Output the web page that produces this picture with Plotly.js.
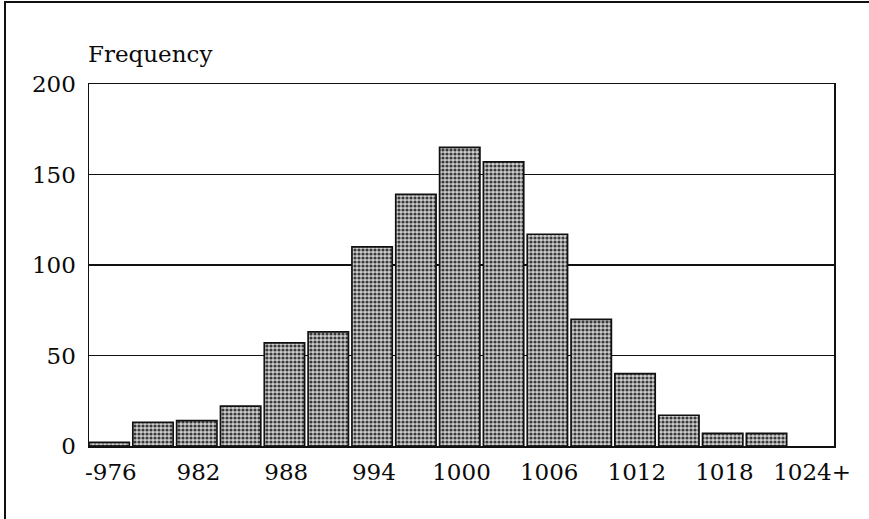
<!DOCTYPE html>
<html>
<head>
<meta charset="utf-8">
<script src="https://cdn.plot.ly/plotly-3.0.1.min.js"></script>
<style>
  html, body { margin: 0; padding: 0; background: #fff; }
  #wrap { position: relative; width: 869px; height: 519px; }
  #chart { width: 869px; height: 519px; }
  #frame { position: absolute; left: 4px; top: 1px; right: 0; bottom: 0;
           border-left: 2px solid #111; border-top: 2px solid #111; pointer-events: none; }
</style>
</head>
<body>
<div id="wrap">
  <div id="chart"></div>
  <div id="frame"></div>
</div>
<script>
// Histogram bins (3 units wide), labels shown every other bin
const binLabels = ["-976", "979", "982", "985", "988", "991", "994", "997", "1000",
                   "1003", "1006", "1009", "1012", "1015", "1018", "1021", "1024+"];
const frequencies = [2, 13, 14, 22, 57, 63, 110, 139, 165, 157, 117, 70, 40, 17, 7, 7, 0];
const tickLabels = ["-976", "982", "988", "994", "1000", "1006", "1012", "1018", "1024+"];
const yTicks = [0, 50, 100, 150, 200];

const xIdx = binLabels.map((_, i) => i);
const tickIdx = tickLabels.map(l => binLabels.indexOf(l));

const font = { family: "DejaVu Serif, Liberation Serif, serif", size: 23, color: "#0a0a0a" };

const trace = {
  type: "bar",
  x: xIdx,
  y: frequencies,
  offset: -0.5,
  width: 0.92,
  marker: {
    color: "#a8a8a8",
    line: { color: "#111", width: frequencies.map(v => v > 0 ? 1.7 : 0) },
    pattern: { shape: ".", bgcolor: "#cdcdcd", fgcolor: "#3a3a3a", size: 4, solidity: 0.5 }
  },
  hoverinfo: "skip"
};

const layout = {
  width: 869, height: 519,
  margin: { l: 89, r: 35, t: 84, b: 73, pad: 0 },
  paper_bgcolor: "#fff", plot_bgcolor: "#fff",
  showlegend: false,
  font: font,
  xaxis: {
    range: [-0.5, 16.5],
    tickmode: "array", tickvals: tickIdx, ticktext: tickLabels,
    showgrid: false, zeroline: false,
    showline: true, mirror: true, linecolor: "#111", linewidth: 1.5,
    ticks: "", ticklabelstandoff: 5,
    tickfont: font, fixedrange: true
  },
  yaxis: {
    range: [0, 200],
    tickmode: "array", tickvals: yTicks, ticktext: yTicks.map(String),
    showgrid: true, gridcolor: "#111", gridwidth: 1.2,
    zeroline: false,
    showline: true, mirror: true, linecolor: "#111", linewidth: 1.5,
    ticks: "", ticklabelstandoff: 7,
    tickfont: font, fixedrange: true
  },
  annotations: [{
    text: "Frequency", xref: "paper", yref: "paper", x: 0, y: 1,
    xanchor: "left", yanchor: "bottom", yshift: 15, xshift: -3, showarrow: false,
    font: font
  }]
};

Plotly.newPlot("chart", [trace], layout, { staticPlot: true, displayModeBar: false });
</script>
</body>
</html>
